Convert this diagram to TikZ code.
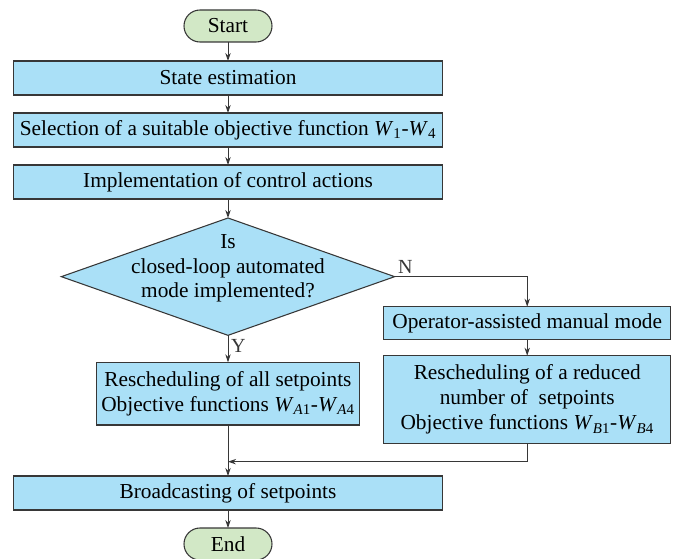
\documentclass[tikz,border=0pt]{standalone}
\usepackage{fontspec}
\setmainfont{Liberation Serif}
\usepackage{tikz}
\usetikzlibrary{positioning, arrows.meta, shapes.geometric, calc}

\definecolor{boxblue}{RGB}{170,224,247}
\definecolor{termgreen}{RGB}{210,232,198}
\definecolor{edgegray}{RGB}{55,55,55}
\newcommand{\Wsub}[1]{\textit{W}\textsubscript{#1}}

\begin{document}
\begin{tikzpicture}[
  font=\fontsize{16}{18.75}\selectfont,
  node distance=13.5pt,
  box/.style={draw=edgegray, line width=0.8pt, fill=boxblue, align=center,
    minimum width=322pt, minimum height=25.5pt, inner sep=2pt, outer sep=0pt},
  term/.style={draw=edgegray, line width=0.8pt, fill=termgreen, outer sep=0pt,
    rounded corners=12pt, minimum width=66pt, minimum height=24pt},
  decision/.style={draw=edgegray, line width=0.8pt, fill=boxblue, diamond,
    minimum width=250pt, minimum height=88pt, inner sep=0pt, outer sep=0pt},
  arrow/.style={-{Stealth[length=6pt,width=4pt]}, edgegray, line width=0.7pt},
  tag/.style={font=\fontsize{15}{17}\selectfont, inner sep=2pt},
]
  \useasboundingbox (-171pt,19.5pt) rectangle (339.75pt,-399.75pt);

  \node[term] (start) {Start};
  \node[box, below=14.25pt of start] (est) {State estimation};
  \node[box, below=of est] (sel) {Selection of a suitable objective function \Wsub{1}-\Wsub{4}};
  \node[box, below=of sel] (impl) {Implementation of control actions};
  \node[decision, below=14.25pt of impl,
    label={[align=center, yshift=6pt, font=\fontsize{16}{18.4}\selectfont]center:Is\\closed-loop automated\\mode implemented?}] (q) {};

  \node[box, minimum width=197pt, minimum height=47pt, below=20.25pt of q] (all)
    {Rescheduling of all setpoints\\Objective functions \Wsub{\textit{A}1}-\Wsub{\textit{A}4}};

  \node[box, minimum width=215pt, minimum height=24.75pt, anchor=north]
    (op) at ([xshift=99.4pt,yshift=-22.5pt]q.east) {Operator-assisted manual mode};
  \node[box, minimum width=215pt, minimum height=66pt, below=12pt of op] (red)
    {Rescheduling of a reduced\\number of~ setpoints\\Objective functions \Wsub{\textit{B}1}-\Wsub{\textit{B}4}};

  \node[box, below=38.25pt of all] (bcast) {Broadcasting of setpoints};
  \node[term, below=of bcast] (end) {End};

  \coordinate (join) at ([yshift=-13.5pt]red.south -| all.south);

  \foreach \a/\b in {start/est, est/sel, sel/impl, impl/q, all/bcast, bcast/end}
    \draw[arrow] (\a) -- (\b);
  \draw[arrow] (q.south) -- node[tag, pos=0.4, right] {Y} (all.north);
  \draw[arrow] (q.east) -| node[tag, pos=0.04, above] {N} (op.north);
  \draw[arrow] (op) -- (red);
  \draw[arrow] (red.south) |- (join);
\end{tikzpicture}
\end{document}
